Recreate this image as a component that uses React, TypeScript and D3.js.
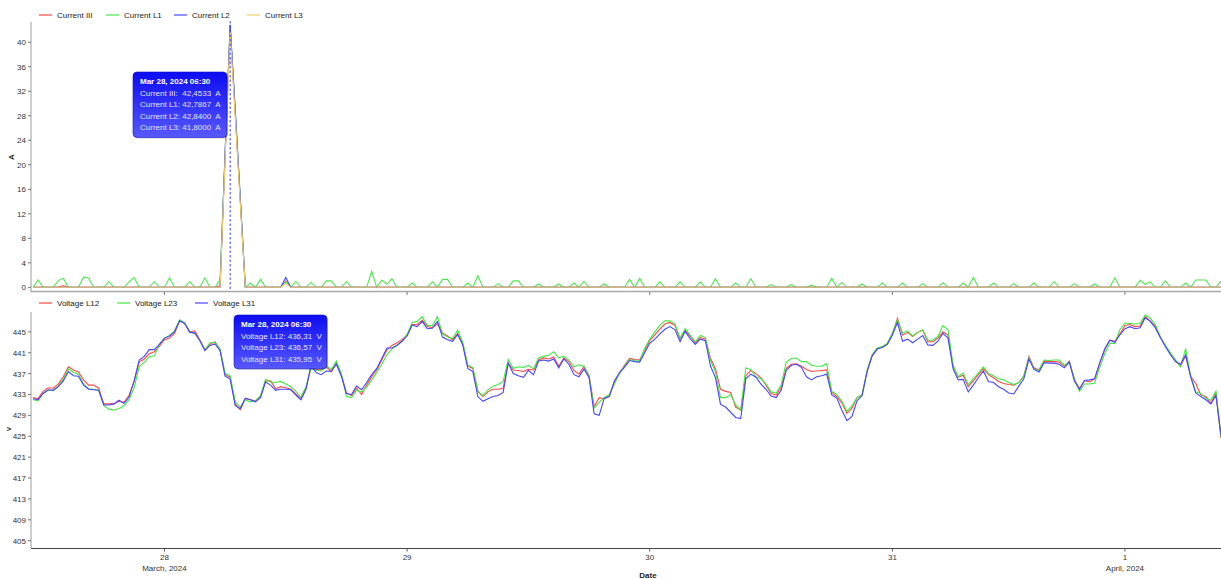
import React from "react";
import * as d3 from "d3";

// Half-hourly samples, first one at 27 Mar 2024 11:00 CET (10:00 UTC)
const START_UTC = Date.UTC(2024, 2, 27, 10, 0);
const STEP_MS = 30 * 60 * 1000;
const HOVER_INDEX = 39;

// Current L1 (A), every sample
const currentL1 = [
  0, 1.2, 0, 0, 0, 1.1, 1.5, 0, 0, 0, 1.7, 1.5, 0, 0, 0, 0.95, 0, 0, 0, 0.9,
  1.6, 0, 0, 0, 0.95, 0, 0, 1.55, 0, 0, 0, 0.95, 0, 0, 1.55, 0, 0, 1.2, 21.8, 42.7867,
  28.8, 14.5, 0, 0.7, 0, 1.3, 0, 0, 0, 0, 0.9, 0, 0.95, 0, 0, 0.8, 0, 0, 1.05, 1.05,
  0, 0, 0.95, 0, 0, 0, 0, 2.6, 0, 1.2, 0.5, 1.4, 0, 0, 0, 0.7, 0, 0, 0, 0.9,
  0, 1.3, 1.3, 0, 0, 0, 0.7, 0, 1.9, 0, 0, 0, 0.6, 0, 0, 1.05, 1.05, 0, 0, 0,
  0.55, 0, 0, 0, 0.55, 0, 0, 0.7, 0, 0.95, 0, 0, 0, 0.55, 0, 0, 0, 0, 1.3, 0,
  1.45, 0, 0, 0, 0.9, 0, 0, 0, 0.9, 0, 0, 0, 0.9, 0, 0, 1.4, 0, 0, 0, 0.7,
  0, 0, 1.4, 0, 0, 0, 0.45, 0, 0, 0, 0.45, 0, 0, 0, 0.35, 0, 0, 0, 1.45, 0,
  0.8, 0, 0, 0, 0.55, 0, 0, 0, 0.7, 0, 0, 0, 0.7, 0, 0, 0, 0.6, 0, 0, 0,
  0.75, 0, 0, 0, 0.7, 0, 1.6, 0, 0, 0, 0.7, 0, 0, 0, 0.6, 0, 0, 0, 0.7, 0,
  0, 0, 0.95, 0, 0, 0, 0.6, 0, 0, 0, 0.55, 0, 0, 0, 1.55, 0, 0, 0, 0, 1.15,
  0.5, 0.9, 0, 0, 1.05, 0, 0, 0, 0.7, 0, 1.2, 1.2, 1.2, 0, 0, 1.0,
];

// Other currents are zero except at these samples: [sample index, amps]
const currentIIIReadings: [number, number][] = [
  [6, 0.3], [37, 0.2], [38, 21.5], [39, 42.4533], [40, 28.5], [41, 14.2], [50, 1.0],
];
const currentL2Readings: [number, number][] = [
  [38, 22.0], [39, 42.84], [40, 29.0], [41, 14.6], [50, 1.6],
];
const currentL3Readings: [number, number][] = [
  [38, 21.0], [39, 41.8], [40, 28.0], [41, 13.8], [50, 0.6],
];

// Line voltages (V)
const voltageL12 = [
  432.4, 432.2, 433.6, 434.3, 434.2, 435.0, 436.4, 438.3, 437.7, 437.3,
  435.8, 434.8, 434.8, 434.2, 431.2, 431.2, 431.2, 431.7, 431.5, 432.8,
  435.5, 439.2, 439.8, 440.8, 441.2, 442.2, 443.5, 443.8, 444.7, 447.1,
  446.6, 445.0, 445.2, 443.5, 441.6, 442.6, 443.1, 441.6, 436.8, 436.31,
  431.2, 430.1, 432.2, 432.0, 431.8, 432.6, 435.6, 435.6, 434.1, 434.5,
  434.3, 434.0, 433.1, 432.2, 434.2, 438.4, 437.8, 437.7, 438.3, 437.4,
  439.0, 436.8, 433.3, 432.8, 434.2, 433.0, 434.8, 436.4, 437.7, 439.6,
  441.5, 442.4, 442.9, 443.5, 444.4, 446.4, 446.4, 447.2, 446.0, 445.8,
  446.5, 444.8, 444.2, 443.5, 444.7, 442.8, 438.5, 438.0, 433.6, 432.6,
  433.5, 434.0, 434.0, 434.2, 439.0, 437.7, 437.6, 437.4, 437.8, 437.7,
  439.6, 440.0, 439.8, 440.2, 438.4, 440.0, 439.3, 437.6, 436.9, 438.4,
  436.6, 430.7, 432.4, 432.2, 432.7, 435.6, 437.0, 438.6, 439.9, 439.7,
  439.6, 441.5, 443.3, 444.4, 445.5, 446.5, 446.8, 446.2, 443.6, 445.3,
  444.2, 442.9, 443.9, 443.6, 440.0, 437.9, 434.0, 433.6, 433.4, 430.6,
  430.0, 436.6, 437.6, 437.0, 436.2, 434.8, 433.2, 432.9, 434.4, 438.0,
  438.8, 438.9, 438.4, 437.8, 437.4, 437.5, 437.6, 437.7, 433.4, 432.6,
  431.4, 429.4, 430.4, 432.4, 432.9, 437.5, 440.5, 441.8, 442.1, 442.7,
  444.7, 447.6, 444.4, 444.9, 444.1, 444.9, 445.3, 443.1, 443.1, 443.8,
  445.0, 444.4, 438.4, 436.3, 436.7, 434.5, 435.6, 436.8, 437.9, 436.8,
  436.2, 435.5, 435.1, 434.9, 434.8, 435.3, 436.5, 440.3, 438.1, 437.7,
  439.4, 439.3, 439.3, 439.2, 438.4, 439.4, 435.9, 434.1, 435.7, 435.4,
  436.0, 439.0, 441.6, 443.4, 443.2, 444.6, 446.2, 446.4, 446.0, 446.1,
  447.9, 447.1, 446.0, 444.0, 442.3, 440.8, 439.5, 438.4, 440.4, 436.5,
  435.1, 432.9, 432.6, 431.3, 433.2, 424.6,
];

const voltageL23 = [
  432.0, 431.8, 433.2, 433.8, 433.8, 434.6, 435.9, 437.9, 437.2, 436.9,
  435.0, 434.1, 434.0, 433.8, 430.9, 430.2, 430.0, 430.3, 430.9, 432.0,
  434.3, 438.3, 439.2, 440.2, 440.4, 442.6, 443.8, 444.3, 445.2, 447.3,
  446.7, 445.0, 444.7, 443.4, 441.5, 442.9, 443.0, 441.7, 437.0, 436.57,
  431.6, 430.6, 432.0, 431.6, 431.8, 432.8, 435.9, 435.4, 435.3, 435.5,
  435.0, 434.5, 433.6, 432.5, 434.5, 438.0, 437.6, 437.5, 438.5, 437.8,
  439.4, 437.0, 432.6, 432.4, 433.8, 433.5, 434.4, 435.8, 437.2, 438.8,
  440.6, 441.7, 442.5, 443.2, 444.5, 446.8, 447.0, 447.9, 446.2, 446.2,
  447.9, 444.6, 444.0, 443.7, 445.3, 443.0, 438.6, 438.2, 433.6, 432.8,
  433.9, 434.6, 434.9, 435.5, 439.7, 438.0, 438.3, 438.2, 438.6, 437.9,
  440.0, 440.3, 440.5, 441.2, 440.0, 440.3, 439.6, 438.3, 438.7, 438.4,
  436.4, 430.4, 431.5, 432.4, 433.0, 435.0, 437.0, 438.4, 439.7, 439.5,
  439.4, 441.8, 443.6, 445.0, 446.3, 447.1, 447.1, 446.5, 443.8, 445.6,
  444.4, 443.1, 444.3, 443.9, 439.6, 437.3, 432.4, 432.4, 433.0, 431.0,
  430.0, 438.1, 437.8, 436.4, 436.0, 435.0, 433.5, 433.3, 434.8, 439.2,
  439.9, 440.0, 439.3, 439.3, 438.6, 438.4, 438.4, 438.9, 433.6, 433.0,
  431.7, 429.8, 430.8, 432.4, 432.9, 437.6, 440.6, 441.9, 442.2, 442.8,
  444.8, 447.3, 444.8, 445.2, 444.2, 444.9, 445.4, 443.4, 443.4, 444.1,
  446.2, 445.4, 438.6, 436.4, 437.1, 434.9, 436.0, 437.1, 438.3, 437.0,
  436.6, 436.0, 435.8, 435.3, 434.9, 435.3, 436.6, 440.0, 437.9, 437.6,
  439.6, 439.5, 439.6, 439.6, 438.6, 439.2, 436.0, 433.6, 435.0, 435.0,
  435.2, 438.2, 440.8, 442.8, 442.8, 445.4, 446.7, 446.6, 446.5, 446.6,
  448.2, 447.6, 446.4, 444.0, 442.4, 441.0, 439.6, 438.3, 441.8, 436.5,
  433.5, 433.2, 432.3, 431.9, 433.6, 425.0,
];

const voltageL31 = [
  432.2, 432.0, 433.2, 433.9, 433.8, 434.5, 435.6, 437.4, 436.6, 436.5,
  434.8, 434.0, 433.9, 433.8, 431.0, 431.0, 431.2, 431.9, 431.3, 432.5,
  435.6, 439.6, 440.3, 441.6, 441.6, 442.6, 443.8, 444.2, 445.0, 447.1,
  446.6, 444.9, 444.8, 443.3, 441.4, 442.4, 442.7, 441.4, 436.5, 435.95,
  430.9, 430.3, 432.3, 432.0, 431.6, 432.4, 435.4, 434.8, 433.8, 434.0,
  434.0, 433.9, 432.9, 432.0, 434.0, 438.6, 437.2, 436.8, 437.5, 437.4,
  438.8, 436.5, 433.2, 433.0, 434.6, 433.9, 435.3, 436.8, 438.0, 439.9,
  441.9, 441.9, 442.4, 443.2, 444.2, 446.3, 446.0, 447.0, 445.6, 445.7,
  447.0, 444.0, 443.5, 443.2, 444.5, 442.5, 438.0, 437.4, 432.6, 431.7,
  432.2, 432.6, 432.8, 433.4, 439.0, 437.0, 436.6, 436.3, 437.6, 436.8,
  439.4, 439.6, 439.4, 439.8, 438.1, 439.8, 438.8, 436.8, 436.4, 437.9,
  436.2, 429.3, 429.0, 432.3, 432.6, 435.5, 437.2, 438.2, 439.5, 439.3,
  439.2, 441.0, 442.8, 443.6, 444.6, 445.5, 446.0, 445.4, 443.1, 445.1,
  443.7, 442.6, 443.6, 443.3, 438.5, 436.2, 431.1, 430.6, 429.6, 428.6,
  428.4, 436.0, 436.9, 436.3, 435.0, 434.0, 432.7, 432.4, 433.8, 437.6,
  438.6, 438.8, 438.2, 436.4, 435.8, 436.4, 436.6, 436.9, 432.9, 432.3,
  430.0, 428.0, 428.8, 431.8, 432.8, 437.4, 440.4, 441.7, 442.0, 442.6,
  444.4, 446.8, 443.2, 443.6, 442.9, 443.6, 444.3, 442.5, 442.4, 443.2,
  444.7, 443.8, 437.9, 435.8, 435.9, 433.5, 434.8, 436.2, 437.5, 435.5,
  435.3, 434.5, 434.0, 433.3, 433.1, 434.6, 436.0, 439.8, 437.8, 437.3,
  439.1, 439.0, 439.0, 438.8, 438.1, 439.2, 435.6, 434.0, 435.7, 435.8,
  436.0, 439.0, 441.7, 443.4, 443.0, 444.4, 445.6, 446.0, 445.6, 445.8,
  447.7, 447.0, 445.8, 443.9, 442.2, 440.6, 439.3, 438.8, 440.6, 436.4,
  433.3, 432.6, 432.0, 431.2, 432.8, 425.2,
];

// Local midnights (CET / CEST after the 31 March switch), expressed in UTC
const dayTicks = [
  { utc: Date.UTC(2024, 2, 27, 23), label: "28", sub: "March, 2024" },
  { utc: Date.UTC(2024, 2, 28, 23), label: "29", sub: "" },
  { utc: Date.UTC(2024, 2, 29, 23), label: "30", sub: "" },
  { utc: Date.UTC(2024, 2, 30, 23), label: "31", sub: "" },
  { utc: Date.UTC(2024, 2, 31, 22), label: "1", sub: "April, 2024" },
];

const currentTicks = [0, 4, 8, 12, 16, 20, 24, 28, 32, 36, 40];
const voltageTicks = [405, 409, 413, 417, 421, 425, 429, 433, 437, 441, 445];

const N = voltageL12.length;

const fromReadings = (readings: [number, number][]) => {
  const out = new Array(N).fill(0);
  readings.forEach(([i, v]) => (out[i] = v));
  return out;
};

const FONT = "'Liberation Sans', Arial, sans-serif";

const currentSeries = [
  { name: "Current III", color: "#ff4747", values: fromReadings(currentIIIReadings), digits: 4, unit: "A" },
  { name: "Current L1", color: "#4be84b", values: currentL1, digits: 4, unit: "A" },
  { name: "Current L2", color: "#4646ff", values: fromReadings(currentL2Readings), digits: 4, unit: "A" },
  { name: "Current L3", color: "#f5cf62", values: fromReadings(currentL3Readings), digits: 4, unit: "A" },
];

const voltageSeries = [
  { name: "Voltage L12", color: "#ff4747", values: voltageL12, digits: 2, unit: "V" },
  { name: "Voltage L23", color: "#3fea3f", values: voltageL23, digits: 2, unit: "V" },
  { name: "Voltage L31", color: "#4646ff", values: voltageL31, digits: 2, unit: "V" },
];

const timeAt = (i: number) => new Date(START_UTC + i * STEP_MS);
// Local (CET) label for the hovered sample
const hoverTitle = d3.utcFormat("%b %d, %Y %H:%M")(new Date(START_UTC + HOVER_INDEX * STEP_MS + 3600 * 1000));
const fmt = (v: number, digits: number) => v.toFixed(digits).replace(".", ",");

type Series = { name: string; color: string; values: number[]; digits: number; unit: string };

function Legend({ items, x0, y, gaps }: { items: Series[]; x0: number; y: number; gaps: number[] }) {
  return (
    <g>
      {items.map((s, k) => (
        <g key={s.name} transform={`translate(${gaps[k] + x0},${y})`}>
          <line x1={0} x2={13} y1={0} y2={0} stroke={s.color} strokeWidth={1.2} />
          <text x={18} y={3} fontSize={8} fill="#222" fontFamily={FONT}>
            {s.name}
          </text>
        </g>
      ))}
    </g>
  );
}

function Tooltip({ x, y, w, series }: { x: number; y: number; w: number; series: Series[] }) {
  const rowH = 11.6;
  const h = 14 + series.length * rowH + 5;
  return (
    <g>
      <rect x={x + 1} y={y + 1} width={w} height={h} rx={4} fill="#000" opacity={0.18} />
      <rect x={x} y={y} width={w} height={h} rx={4} fill="url(#tipGrad)" stroke="#1010c0" strokeWidth={0.6} />
      <text x={x + 7} y={y + 12} fontSize={8} fontWeight="bold" fill="#fff" fontFamily={FONT}>
        {hoverTitle}
      </text>
      {series.map((s, k) => (
        <text
          key={s.name}
          x={x + 7}
          y={y + 12 + (k + 1) * rowH}
          fontSize={8}
          fill="#e4e4ff"
          fontFamily={FONT}
          style={{ whiteSpace: "pre" }}
        >
          {`${s.name}:${s.name.endsWith("III") ? "  " : " "}${fmt(s.values[HOVER_INDEX], s.digits)}  ${s.unit}`}
        </text>
      ))}
    </g>
  );
}

export default function App() {
  const W = 1221;
  const H = 579;
  const left = 31;

  const x = d3
    .scaleUtc()
    .domain([timeAt(0), timeAt(N - 1)])
    .range([33, 1221]);

  const yTop = d3.scaleLinear().domain([-0.6, 43.3]).range([291, 22]);
  const yBot = d3.scaleLinear().domain([403.6, 448.8]).range([548, 312]);

  const lineTop = d3
    .line<number>()
    .x((_, i) => x(timeAt(i)))
    .y((d) => yTop(d));
  const lineBot = d3
    .line<number>()
    .x((_, i) => x(timeAt(i)))
    .y((d) => yBot(d));

  const hoverX = x(timeAt(HOVER_INDEX));

  return (
    <svg
      width={W}
      height={H}
      viewBox={`0 0 ${W} ${H}`}
      style={{ position: "absolute", left: 0, top: 0, background: "#fff" }}
    >
      <defs>
        <linearGradient id="tipGrad" x1="0" y1="0" x2="0" y2="1">
          <stop offset="0%" stopColor="#0c0cf2" />
          <stop offset="100%" stopColor="#5858ff" />
        </linearGradient>
        <clipPath id="clipTop">
          <rect x={left} y={20} width={W - left} height={273} />
        </clipPath>
        <clipPath id="clipBot">
          <rect x={left} y={310} width={W - left} height={240} />
        </clipPath>
      </defs>

      {/* ---------- Current panel ---------- */}
      <Legend items={currentSeries} x0={39} y={15} gaps={[0, 67, 135, 208]} />

      <line x1={left} x2={left} y1={22} y2={292} stroke="#9a9a9a" strokeWidth={1} />
      {currentTicks.map((t) => (
        <g key={t} transform={`translate(0,${yTop(t)})`}>
          <line x1={left - 3} x2={left} stroke="#777" />
          <text x={left - 5} y={3} textAnchor="end" fontSize={8} fill="#333" fontFamily={FONT}>
            {t}
          </text>
        </g>
      ))}
      <text
        transform={`translate(14,157) rotate(-90)`}
        textAnchor="middle"
        fontSize={8}
        fontWeight="bold"
        fill="#222"
        fontFamily={FONT}
      >
        A
      </text>

      <g clipPath="url(#clipTop)">
        {currentSeries.map((s) => (
          <path key={s.name} d={lineTop(s.values) ?? ""} fill="none" stroke={s.color} strokeWidth={1.1} />
        ))}
      </g>

      <line x1={left} x2={W} y1={291.5} y2={291.5} stroke="#a8a8a8" strokeWidth={1.6} />
      {dayTicks.map((d) => (
        <line key={d.label} x1={x(new Date(d.utc))} x2={x(new Date(d.utc))} y1={292} y2={295} stroke="#777" />
      ))}

      <line x1={hoverX} x2={hoverX} y1={21} y2={291} stroke="#3c3cff" strokeWidth={1} strokeDasharray="2.5,2" />

      <Tooltip x={133} y={72} w={94} series={currentSeries} />

      {/* ---------- Voltage panel ---------- */}
      <Legend items={voltageSeries} x0={39} y={303} gaps={[0, 78, 156]} />

      <line x1={left} x2={left} y1={312} y2={548} stroke="#9a9a9a" strokeWidth={1} />
      {voltageTicks.map((t) => (
        <g key={t} transform={`translate(0,${yBot(t)})`}>
          <line x1={left - 3} x2={left} stroke="#777" />
          <text x={left - 5} y={3} textAnchor="end" fontSize={8} fill="#333" fontFamily={FONT}>
            {t}
          </text>
        </g>
      ))}
      <text
        transform={`translate(11,429) rotate(-90)`}
        textAnchor="middle"
        fontSize={6}
        fontWeight="bold"
        fill="#222"
        fontFamily={FONT}
      >
        V
      </text>

      <g clipPath="url(#clipBot)">
        {voltageSeries.map((s) => (
          <path key={s.name} d={lineBot(s.values) ?? ""} fill="none" stroke={s.color} strokeWidth={1.1} />
        ))}
      </g>

      <line x1={left} x2={W} y1={548.5} y2={548.5} stroke="#444" strokeWidth={1} />
      {dayTicks.map((d) => {
        const px = x(new Date(d.utc));
        return (
          <g key={d.label} transform={`translate(${px},548.5)`}>
            <line y1={0} y2={3} stroke="#555" />
            <text y={11} textAnchor="middle" fontSize={8} fill="#333" fontFamily={FONT}>
              {d.label}
            </text>
            {d.sub && (
              <text y={22} textAnchor="middle" fontSize={8} fill="#333" fontFamily={FONT}>
                {d.sub}
              </text>
            )}
          </g>
        );
      })}
      <text x={648} y={578} textAnchor="middle" fontSize={8} fontWeight="bold" fill="#222" fontFamily={FONT}>
        Date
      </text>

      <Tooltip x={234} y={315} w={93} series={voltageSeries} />
    </svg>
  );
}
